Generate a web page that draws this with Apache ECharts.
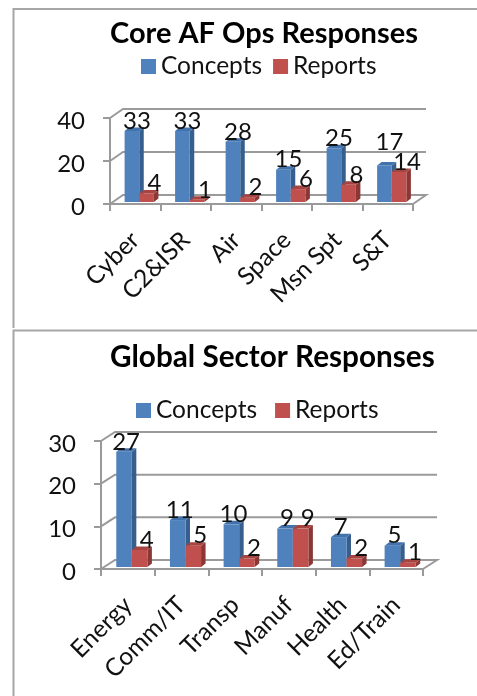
<!DOCTYPE html>
<html>
<head>
<meta charset="utf-8">
<style>html,body{margin:0;padding:0;background:#fff}#c{width:477px;height:696px}</style>
<script src="https://cdn.jsdelivr.net/npm/echarts@6/dist/echarts.min.js"></script>
</head>
<body>
<div id="c"></div>
<script>
// Survey response counts by category
const coreCategories = ['Cyber', 'C2&ISR', 'Air', 'Space', 'Msn Spt', 'S&T'];
const coreConcepts = [33, 33, 28, 15, 25, 17];
const coreReports = [4, 1, 2, 6, 8, 14];
const coreTicks = [0, 20, 40];

const sectorCategories = ['Energy', 'Comm/IT', 'Transp', 'Manuf', 'Health', 'Ed/Train'];
const sectorConcepts = [27, 11, 10, 9, 7, 5];
const sectorReports = [4, 5, 2, 9, 2, 1];
const sectorTicks = [0, 10, 20, 30];

const FONT = 'Lato, "Open Sans", sans-serif';
const GREY = '#9a9a9a';
const BLUE = { front: '#4f81bd', side: '#375f8e', top: '#4272ab' };
const RED = { front: '#c0504d', side: '#8a3735', top: '#a64441' };

// Pseudo-3D column: front face, side face, top face and a value label.
// A label is raised when the neighbouring shorter column's label would collide with it.
function columnRenderer(shades, slot, labelShift, neighbours) {
  return function (params, api) {
    const cat = api.value(0);
    const val = api.value(1);
    const band = api.size([1, 0])[0];
    const w = band * 0.29;
    const cx = api.coord([cat, 0])[0];
    const x0 = cx + 4 + (slot - 1) * w;
    const x1 = x0 + w;
    const zeroY = api.coord([cat, 0])[1];
    const base = zeroY - 2;
    const top = base - (zeroY - api.coord([cat, val])[1]);
    const dx = 4.5, dy = 3.5;
    const gap = neighbours ? val - neighbours[cat] : 0;
    const lift = gap > 0 && gap <= 3 ? 13 : 0;
    return {
      type: 'group',
      children: [
        { type: 'polygon', shape: { points: [[x1, top], [x1 + dx, top - dy], [x1 + dx, base - dy], [x1, base]] }, style: { fill: shades.side } },
        { type: 'polygon', shape: { points: [[x0, top], [x0 + dx, top - dy], [x1 + dx, top - dy], [x1, top]] }, style: { fill: shades.top } },
        { type: 'rect', shape: { x: x0, y: top, width: w, height: base - top }, style: { fill: shades.front } },
        { type: 'text', z2: 10, style: { text: String(val), x: (x0 + x1) / 2 + labelShift, y: top + 2 - lift, align: 'center', verticalAlign: 'bottom', font: '24px ' + FONT, fill: '#111' } }
      ]
    };
  };
}

// Back wall gridlines with their diagonal links to the front axis.
function wallRenderer(depthX, depthY) {
  return function (params, api) {
    const y = api.coord([0, api.value(1)])[1];
    const left = params.coordSys.x;
    const right = left + params.coordSys.width;
    const pts = [[left, y], [left + depthX, y - depthY], [right + depthX, y - depthY]];
    if (api.value(1) === 0) pts.push([right, y]);
    return { type: 'polyline', shape: { points: pts }, style: { stroke: GREY, lineWidth: 2, fill: null } };
  };
}

function panelAxes(categories, gridIndex, yMax, yStep) {
  return {
    x: {
      type: 'category', gridIndex, data: categories,
      axisLine: { lineStyle: { color: GREY, width: 2 } },
      axisTick: { show: true, length: 7, lineStyle: { color: GREY, width: 2 } },
      axisLabel: { rotate: 45, interval: 0, margin: 32, fontSize: 24.5, fontFamily: FONT, color: '#111' }
    },
    y: {
      type: 'value', gridIndex, min: 0, max: yMax, interval: yStep,
      splitLine: { show: false },
      axisLine: { show: true, lineStyle: { color: GREY, width: 2 } },
      axisTick: { show: true, length: 7, lineStyle: { color: GREY, width: 2 } },
      axisLabel: {
        margin: 25, formatter: '{n|{value}}',
        rich: { n: { fontSize: 24, fontFamily: FONT, color: '#111', padding: [6, 0, 0, 0] } }
      }
    }
  };
}

function panelSeries(idx, ticks, concepts, reports, depthX, depthY, shifts) {
  const pair = arr => arr.map((v, i) => [i, v]);
  const base = { type: 'custom', coordinateSystem: 'cartesian2d', xAxisIndex: idx, yAxisIndex: idx, encode: { x: 0, y: 1 }, animation: false };
  return [
    Object.assign({}, base, { name: 'wall' + idx, data: ticks.map(t => [0, t]), renderItem: wallRenderer(depthX, depthY), z: 1, silent: true }),
    Object.assign({}, base, { name: 'Concepts', itemStyle: { color: BLUE.front }, data: pair(concepts), renderItem: columnRenderer(BLUE, 0, shifts[0], reports), z: 3 }),
    Object.assign({}, base, { name: 'Reports', itemStyle: { color: RED.front }, data: pair(reports), renderItem: columnRenderer(RED, 1, shifts[1]), z: 4 })
  ];
}

const coreAxes = panelAxes(coreCategories, 0, 40, 20);
const sectorAxes = panelAxes(sectorCategories, 1, 30, 10);

const legendBase = {
  data: ['Concepts', 'Reports'], icon: 'rect', itemWidth: 15, itemHeight: 15,
  textStyle: { fontSize: 24.5, fontFamily: FONT, color: '#111' }, selectedMode: false
};
const titleStyle = { fontWeight: 'bold', fontFamily: FONT, color: '#000' };

const option = {
  backgroundColor: '#fff',
  animation: false,
  title: [
    { text: 'Core AF Ops Responses', left: 110, top: 19, padding: 0, textStyle: Object.assign({ fontSize: 29 }, titleStyle) },
    { text: 'Global Sector Responses', left: 110, top: 342, padding: 0, textStyle: Object.assign({ fontSize: 29.7 }, titleStyle) }
  ],
  legend: [
    Object.assign({}, legendBase, { left: 141, top: 54, padding: 0, itemGap: 11 }),
    Object.assign({}, legendBase, { left: 136, top: 398, padding: 0, itemGap: 18 })
  ],
  grid: [
    { left: 110, width: 303, top: 118, height: 86 },
    { left: 101, width: 322, top: 441, height: 128 }
  ],
  xAxis: [coreAxes.x, sectorAxes.x],
  yAxis: [coreAxes.y, sectorAxes.y],
  series: panelSeries(0, coreTicks, coreConcepts, coreReports, 13, 9, [5, 8])
    .concat(panelSeries(1, sectorTicks, sectorConcepts, sectorReports, 14, 9, [2, 7])),
  graphic: [
    { type: 'polyline', silent: true, shape: { points: [[477, 9], [13.5, 9], [13.5, 328]] }, style: { stroke: '#a6a6a6', lineWidth: 2, fill: null } },
    { type: 'polyline', silent: true, shape: { points: [[477, 330.5], [13.5, 330.5], [13.5, 696]] }, style: { stroke: '#a6a6a6', lineWidth: 2, fill: null } }
  ]
};

const chart = echarts.init(document.getElementById('c'), null, { renderer: 'canvas' });
chart.setOption(option);
</script>
</body>
</html>
